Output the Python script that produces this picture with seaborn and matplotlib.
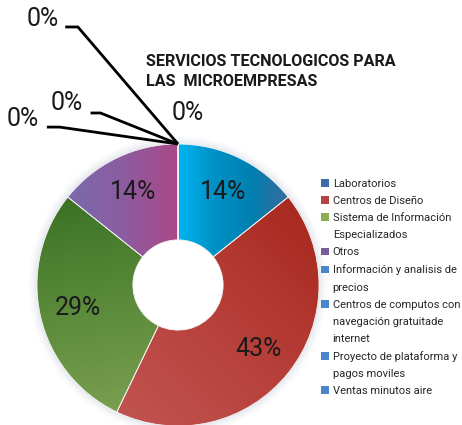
import numpy as np
import matplotlib
matplotlib.use('Agg')
import matplotlib.pyplot as plt
from matplotlib.colors import LinearSegmentedColormap
from matplotlib.patches import Patch, Circle
import seaborn as sns

# datos del grafico
servicios = [
    'Laboratorios',
    'Centros de Diseño',
    'Sistema de Información\nEspecializados',
    'Otros',
    'Información y analisis de\nprecios',
    'Centros de computos con\nnavegación gratuitade\ninternet',
    'Proyecto de plataforma y\npagos moviles',
    'Ventas minutos aire',
]
cantidad = [1, 3, 2, 1, 0, 0, 0, 0]

colores_leyenda = ['#3D6CA4', '#B5443F', '#8AAE4F', '#7A5C98',
                   '#4A86CC', '#4A86CC', '#4A86CC', '#4A86CC']
# degradados (angulo de direccion, colores)
degradados = [
    (0, ['#00B4F0', '#0090C4', '#0080B0', '#3A6A9C']),
    (225, ['#A82A20', '#B8403A', '#C05350']),
    (280, ['#3C7225', '#5A8A3A', '#7A9E50']),
    (0, ['#7A6AAC', '#8C5CA0', '#AA4888']),
]

sns.set_theme(style='white')
plt.rcParams['font.family'] = ['Roboto', 'DejaVu Sans']

W, H = 462, 425
R_PX, CX, CY = 141, 178, 285
HUECO = 0.32

fig = plt.figure(figsize=(W / 100, H / 100), dpi=100)
ax = fig.add_axes([0, 0, 1, 1])

# sombra suave alrededor
for r, a in zip(np.linspace(1.06, 1.0, 6), np.linspace(0.04, 0.12, 6)):
  ax.add_patch(Circle((0, 0), r, color='#B8C6D6', alpha=a, lw=0, zorder=0))
ax.add_patch(Circle((0, 0), HUECO, color='white', lw=0, zorder=0.5))

wedges, textos, pcts = ax.pie(
    cantidad,
    startangle=90,
    counterclock=False,
    colors=colores_leyenda,
    autopct=lambda p: f'{p:.0f}%' if p > 0 else '',
    pctdistance=0.73,
    wedgeprops=dict(width=1 - HUECO, edgecolor='#F4F4F4', linewidth=0.6),
    textprops=dict(fontsize=18, color='#1A1A1A'),
)

# relleno degradado recortado a cada porcion
xx, yy = np.meshgrid(np.linspace(-1, 1, 400), np.linspace(-1, 1, 400))
for w, (ang, cols) in zip(wedges, degradados):
  d = np.deg2rad(ang)
  t = xx * np.cos(d) + yy * np.sin(d)
  th = np.rad2deg(np.arctan2(yy, xx)) % 360
  rr = np.hypot(xx, yy)
  t1, t2 = w.theta1 % 360, w.theta2 % 360
  if t1 <= t2:
    dentro = (th >= t1) & (th <= t2)
  else:
    dentro = (th >= t1) | (th <= t2)
  dentro &= (rr <= 1) & (rr >= HUECO)
  tv = t[dentro]
  t = np.clip((t - tv.min()) / (tv.max() - tv.min()), 0, 1)
  cmap = LinearSegmentedColormap.from_list('g', cols)
  im = ax.imshow(t, cmap=cmap, extent=(-1, 1, -1, 1), origin='lower',
                 zorder=1, interpolation='bilinear')
  im.set_clip_path(w)
for w in wedges:
  w.set_facecolor('none')
  w.set_zorder(2)
for p in pcts:
  p.set_zorder(3)

# etiquetas de 0% con lineas guia
punta = wedges[4].r * np.array([np.cos(np.deg2rad(wedges[4].theta1)),
                                np.sin(np.deg2rad(wedges[4].theta1))])
ceros = [
    ((0.07, 1.22), None),
    ((-0.96, 1.89), ((-0.80, 1.83), (-0.71, 1.83))),
    ((-0.79, 1.29), ((-0.62, 1.22), (-0.55, 1.22))),
    ((-1.10, 1.18), ((-0.93, 1.12), (-0.84, 1.12))),
]
for (pos, guia) in ceros:
  ax.text(pos[0], pos[1], '0%', fontsize=18, color='#1A1A1A',
          ha='center', va='center', zorder=3)
  if guia:
    xs = [guia[0][0], guia[1][0], punta[0]]
    ys = [guia[0][1], guia[1][1], punta[1]]
    ax.plot(xs, ys, color='black', lw=2, solid_capstyle='butt', zorder=3)

ax.set_xlim(-CX / R_PX, (W - CX) / R_PX)
ax.set_ylim(-(H - CY) / R_PX, CY / R_PX)
ax.set_aspect('auto')
ax.axis('off')

fig.text(146 / W, 1 - 54 / H, 'SERVICIOS TECNOLOGICOS PARA\nLAS  MICROEMPRESAS',
         ha='left', va='top', fontsize=11.6, fontweight='bold',
         color='#1A1A1A', linespacing=1.4)

# leyenda: una fila por linea, el cuadro solo en la primera
handles, etiquetas = [], []
for nombre, c in zip(servicios, colores_leyenda):
  for i, linea in enumerate(nombre.split('\n')):
    if i == 0:
      handles.append(Patch(facecolor=c, edgecolor='none'))
    else:
      handles.append(Patch(facecolor='none', edgecolor='none'))
    etiquetas.append(linea)
leg = fig.legend(handles, etiquetas, loc='upper left',
                 bbox_to_anchor=(321 / W, 1 - 179 / H),
                 frameon=False, fontsize=8, borderpad=0, borderaxespad=0,
                 handlelength=0.7, handleheight=0.7, handletextpad=0.35,
                 labelspacing=0.64)
for t in leg.get_texts():
  t.set_color('#262626')

fig.savefig('out.png', dpi=100)
